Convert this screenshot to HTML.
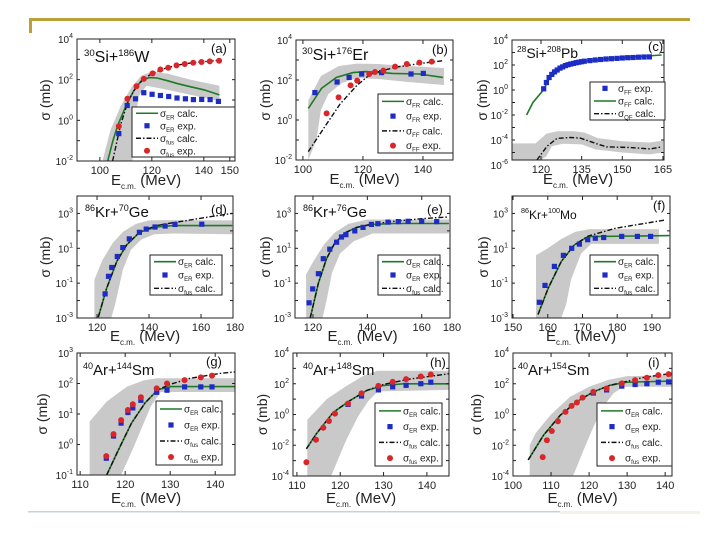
<!DOCTYPE html>
<html><head><meta charset="utf-8"><style>
html,body{margin:0;padding:0;background:#fff}
svg{display:block;font-family:"Liberation Sans",sans-serif}
</style></head><body>
<svg id="chart" width="720" height="540" viewBox="0 0 720 540">
<rect x="0" y="0" width="720" height="540" fill="#fff"/>
<rect x="29" y="18" width="661" height="3" fill="#bba03a"/>
<rect x="29" y="18" width="3" height="15" fill="#bba03a"/>
<rect x="28" y="511" width="532" height="1.5" fill="#c8d0dc"/>
<rect x="560" y="511" width="140" height="3" fill="#f3f1ea"/>
<g id="panels"></g>
</svg>
<script>
// ---- Panel (a) 30Si+186W ----
const aBandHiE=[101,104,108,112,116,120,126,135,146];
const aBandHiL=[-2,-0.5,0.7,1.6,2.2,2.4,2.3,2.0,1.7];
const aBandLoE=[101,112.5,113.5,115,118,124,135,146];
const aBandLoL=[-2,-2,0,1.2,1.7,1.55,1.25,0.95];
const aCalcE=[103,105,107,110,113,116,119,122,126,130,135,140,146];
const aCalcL=[-2,-1,-0.2,0.7,1.45,1.95,2.1,2.08,1.95,1.8,1.65,1.5,1.25];
const aDashE=[104.9,108,111,114,117,120,125,130,136,146];
const aDashL=[-2,-0.2,1.0,1.65,2.05,2.3,2.55,2.72,2.84,2.95];
const aBlueE=[107.3,110.5,113.7,116.9,120.1,123.3,126.5,129.7,132.9,136,139.2,142.4,145.6];
const aBlueL=[-0.65,0.73,1.06,1.36,1.28,1.22,1.17,1.1,1.06,1.02,1.03,1.02,0.93];
const aRedE=[107.3,110.6,114.1,116.9,120.3,123.3,126.3,129.5,132.7,135.9,139.1,142.3,145.9];
const aRedL=[-0.29,1.06,1.68,2.04,2.31,2.5,2.59,2.7,2.77,2.83,2.87,2.9,2.93];
const aXTicks=[100,120,140,150];
const aYTicks=[4,2,0,-2];
// ---- Panel (b) 30Si+176Er ----
const bBandHiE=[101.8,106,112,118,125,135,147];
const bBandHiL=[0.98,2.2,2.7,2.82,2.8,2.7,2.6];
const bBandLoE=[101.8,104.5,106,108.5,113,118,125,135,147];
const bBandLoL=[-2,-1,0.5,1.3,1.85,2.1,2.05,1.9,1.75];
const bCalcE=[101.8,106.2,111.2,116.7,121,129.9,138.8,146.6];
const bCalcL=[0.58,1.58,2.13,2.37,2.42,2.33,2.3,2.13];
const bDashE=[101.8,107.9,112.4,118,122.6,130.4,139.3,147];
const bDashL=[-1.58,-0.2,0.8,1.73,2.3,2.63,2.83,2.97];
const bBlueE=[104,111.4,115.4,119.6,126.2,136,140.1];
const bBlueL=[1.37,1.9,2.13,2.3,2.37,2.3,2.33];
const bRedE=[107.9,111.9,115.9,118.1,122.1,124,126.8,130.7,134.6,138.8,142.9];
const bRedL=[0.33,1.13,1.73,1.97,2.3,2.4,2.47,2.67,2.8,2.87,2.92];
const bXTicks=[100,120,140];
const bYTicks=[4,2,0,-2];
// ---- Panel (c) 28Si+208Pb ----
const cBandHiE=[109.3,118,122,126,132,136,141,150,160,165];
const cBandHiL=[-4.27,-4.27,-3.5,-3.3,-3.3,-3.4,-3.85,-4.1,-4.2,-4.05];
const cBandLoE=[109.3,120,122,124,128,135,140,150,160,165];
const cBandLoL=[-5.6,-5.6,-5.3,-4.5,-4.3,-4.35,-4.75,-5.0,-5.15,-5.0];
const cCalcE=[114.7,117,120.9,123.3,128.3,134.5,146.8,164.5];
const cCalcL=[-2,-1,0,1.0,1.87,2.27,2.53,2.8];
const cDashE=[118.5,122.2,125.9,130.8,134.5,140.6,144.3,152.9,160.3,164.5];
const cDashL=[-5.6,-4.5,-3.87,-3.8,-3.85,-4.3,-4.55,-4.6,-4.72,-4.55];
const cBlueE=[121,122,123,124,125,126,127,128,129,130,131,132,133,134,135,136,138,140,142,144,146,148,150,152,154,156,158,160];
const cBlueL=[0.1,0.6,1.0,1.25,1.45,1.6,1.75,1.85,1.95,2.02,2.08,2.13,2.18,2.22,2.26,2.3,2.35,2.4,2.44,2.48,2.5,2.53,2.56,2.58,2.6,2.62,2.64,2.65];
const cRedE=[];
const cRedL=[];
const cXTicks=[120,135,150,165];
const cYTicks=[4,2,0,-2,-4,-6];
// ---- Panel (d) 86Kr+70Ge ----
const dBandHiE=[119,122,126,130,135,140,145,172];
const dBandHiL=[-0.8,0.3,1.3,1.95,2.4,2.6,2.62,2.6];
const dBandLoE=[119,125.5,127,130,133,137,142,150,172];
const dBandLoL=[-3,-3,-2.2,-0.2,0.9,1.5,1.8,1.85,1.8];
const dCalcE=[120.5,123.7,127.6,131.4,136.5,142.9,149.3,172];
const dCalcL=[-2.95,-1.3,0.25,1.2,1.93,2.22,2.3,2.3];
const dDashE=[120.5,123.7,127.6,131.4,136.5,142.9,149.3,165.3,172];
const dDashL=[-2.95,-1.3,0.25,1.2,1.95,2.3,2.47,2.85,3.0];
const dBlueE=[123.1,124.4,125.7,127.8,129.9,132.4,136.3,138.9,142.3,146.2,150,160.3];
const dBlueL=[-1.62,-0.61,-0.1,0.53,1.04,1.54,1.92,2.1,2.22,2.28,2.37,2.38];
const dRedE=[];
const dRedL=[];
const dXTicks=[120,140,160,180];
const dYTicks=[3,1,-1,-3];
// ---- Panel (e) 86Kr+76Ge ----
const eBandHiE=[117.5,120,124,128,133,140,170];
const eBandHiL=[-0.5,0.2,1.2,1.9,2.4,2.65,2.65];
const eBandLoE=[117.5,123.5,125,127,130,135,142,170];
const eBandLoL=[-3,-3,-2,-0.4,0.7,1.4,1.85,1.85];
const eCalcE=[119,122,125,128,132,136,142,150,170];
const eCalcL=[-3,-1,0.4,1.3,1.9,2.2,2.37,2.42,2.42];
const eDashE=[119,122,125,128,132,136,142,150,160,170];
const eDashL=[-3,-1,0.4,1.3,1.9,2.2,2.4,2.55,2.7,2.8];
const eBlueE=[118.6,119.9,122,123.8,126.2,128.7,130.5,132.1,135.4,138.4,141.5,143.9,147.6,151.4,155,160,165.5];
const eBlueL=[-2.13,-1.33,-0.46,0.4,0.95,1.35,1.65,1.78,2.0,2.2,2.37,2.41,2.5,2.53,2.55,2.55,2.53];
const eRedE=[];
const eRedL=[];
const eXTicks=[120,140,160,180];
const eYTicks=[3,1,-1,-3];
// ---- Panel (f) 86Kr+100Mo ----
const fBandHiE=[156.6,160,164,168,172,192];
const fBandHiL=[0.6,1.0,1.55,1.95,2.1,2.1];
const fBandLoE=[156.6,163.9,165.3,166.7,169.6,172.5,192];
const fBandLoL=[-3,-3,-2.2,-0.8,0.7,1.25,1.25];
const fCalcE=[157.2,160.1,163.9,167.7,171.6,195];
const fCalcL=[-2.8,-1.3,0.25,1.2,1.67,1.73];
const fDashE=[157.2,160.1,163.9,167.7,171.6,179.6,194];
const fDashL=[-2.8,-1.3,0.25,1.2,1.7,2.15,2.63];
const fBlueE=[157.6,159.2,161.9,164.5,166.9,169.1,171.5,173.7,176.1,181.3,185.8,189.6];
const fBlueL=[-2.1,-1.13,-0.04,0.59,1.0,1.24,1.49,1.58,1.62,1.68,1.68,1.68];
const fRedE=[];
const fRedL=[];
const fXTicks=[150,160,170,180,190];
const fYTicks=[3,1,-1,-3];
// ---- Panel (g) 40Ar+144Sm ----
const gBandHiE=[112.1,115.9,120.4,124.1,127.1,144.4];
const gBandHiL=[0.75,1.41,1.9,2.1,2.17,2.17];
const gBandLoE=[112.1,119.1,121.6,123.5,125.7,127.9,144.4];
const gBandLoL=[-1,-1,-0.18,0.48,1.25,1.72,1.72];
const gCalcE=[115.9,118.5,121.4,124.4,127.3,130.2,144.4];
const gCalcL=[-1,-0.18,0.7,1.36,1.8,1.9,1.9];
const gDashE=[115.9,118.5,121.4,124.4,127.3,130.2,134.4,141.1,144.4];
const gDashL=[-1,-0.18,0.7,1.36,1.8,1.98,2.17,2.33,2.38];
const gBlueE=[115.8,117.4,119.1,120.6,121.7,123.5,127,129.3,133.2,136.8,139.3];
const gBlueL=[-0.45,0.28,0.7,1.05,1.2,1.45,1.71,1.78,1.89,1.89,1.89];
const gRedE=[115.8,117.4,119.1,120.6,121.7,123.5,127,129.3,133.2,136.8,139.3];
const gRedL=[-0.38,0.34,0.8,1.13,1.32,1.55,1.84,2.0,2.11,2.2,2.26];
const gXTicks=[110,120,130,140];
const gYTicks=[3,2,1,0,-1];
// ---- Panel (h) 40Ar+148Sm ----
const hBandHiE=[112.4,116.9,121.5,125.4,128.5,145];
const hBandHiL=[-0.34,1.0,1.87,2.52,2.85,2.85];
const hBandLoE=[112.4,117.9,121.4,124.1,126.4,128.7,145];
const hBandLoL=[-4,-4,-1.65,-0.13,0.85,1.5,1.6];
const hCalcE=[112.2,114.5,118.4,122.2,126.1,129.9,134.5,145];
const hCalcL=[-2.23,-1.25,0.14,0.9,1.56,1.88,2.0,2.0];
const hDashE=[112.2,114.5,118.4,122.2,126.1,129.9,136,145];
const hDashL=[-2.23,-1.25,0.14,0.9,1.56,1.95,2.3,2.65];
const hBlueE=[121.8,124.9,128.8,132.1,135.2,138.6,140.9];
const hBlueL=[0.66,1.2,1.6,1.8,1.9,2.0,2.1];
const hRedE=[112.2,114.4,116.1,117.4,118.8,121.8,124.9,128.8,132.1,135.2,138.6,140.9];
const hRedL=[-3.1,-1.64,-0.86,-0.42,0.06,0.71,1.37,1.86,2.12,2.3,2.47,2.6];
const hXTicks=[110,120,130,140];
const hYTicks=[4,2,0,-2,-4];
// ---- Panel (i) 40Ar+154Sm ----
const iBandHiE=[104.4,106,110,115,120,125,130,141.8];
const iBandHiL=[-2.0,-1.2,0.0,1.15,1.8,2.25,2.5,2.55];
const iBandLoE=[104.4,115.8,118.5,121.1,123.7,126.4,129,141.8];
const iBandLoL=[-4,-4,-2.34,-0.82,0.5,1.37,1.8,1.8];
const iCalcE=[104,108,112.4,116.8,121.1,125.5,129.9,141.8];
const iCalcL=[-2.95,-1.36,-0.05,0.84,1.47,1.9,2.1,2.17];
const iDashE=[104,108,112.4,116.8,121.1,125.5,129.9,134.3,141.8];
const iDashL=[-2.95,-1.36,-0.05,0.84,1.47,1.9,2.15,2.41,2.67];
const iBlueE=[121.1,124.6,128.6,132.1,135.2,138.2,140.9];
const iBlueL=[1.4,1.6,1.85,1.95,2.0,2.1,2.12];
const iRedE=[107.8,108.9,110.2,111.8,113.8,115.4,116.8,118.3,121.1,124.6,128.6,132.1,135.2,138.2,140.9];
const iRedL=[-2.77,-1.68,-1.07,-0.44,0.17,0.56,0.78,1.1,1.47,1.69,2.02,2.24,2.39,2.56,2.63];
const iXTicks=[100,110,120,130,140];
const iYTicks=[4,2,0,-2,-4];

const NS='http://www.w3.org/2000/svg';
const root=document.getElementById('panels');
function mk(tag,attrs,parent){const e=document.createElementNS(NS,tag);for(const k in attrs)e.setAttribute(k,attrs[k]);parent.appendChild(e);return e;}

const GREEN='#1f7a26',BLUE='#1c2cc4',RED='#d8262a',BAND='#c9c9c9';

function drawPanel(p){
  const g=mk('g',{},root);
  
  
  const [x0,x1,y0,y1]=p.box;
  const sx=v=>x0+(v-p.xd[0])/(p.xd[1]-p.xd[0])*(x1-x0);
  const sy=l=>y1-(l-p.yd[0])/(p.yd[1]-p.yd[0])*(y1-y0);
  const cp=mk('clipPath',{id:'clip-'+p.id},g);
  mk('rect',{x:x0,y:y0,width:x1-x0,height:y1-y0},cp);
  const pg=mk('g',{'clip-path':'url(#clip-'+p.id+')'},g);
  // band
  const pts=[];
  p.bandHiE.forEach((e,i)=>pts.push(sx(e).toFixed(1)+','+sy(p.bandHiL[i]).toFixed(1)));
  for(let i=p.bandLoE.length-1;i>=0;i--)pts.push(sx(p.bandLoE[i]).toFixed(1)+','+sy(p.bandLoL[i]).toFixed(1));
  const band=mk('polygon',{points:pts.join(' '),fill:BAND,stroke:'none'},pg);
  
  
  // calc line
  const cl=mk('polyline',{points:p.calcE.map((e,i)=>sx(e).toFixed(1)+','+sy(p.calcL[i]).toFixed(1)).join(' '),fill:'none',stroke:GREEN,'stroke-width':1.6},pg);
  
  
  const dl=mk('polyline',{points:p.dashE.map((e,i)=>sx(e).toFixed(1)+','+sy(p.dashL[i]).toFixed(1)).join(' '),fill:'none',stroke:'#111','stroke-width':1.4,'stroke-dasharray':'5,2,1.5,2'},pg);
  
  
  p.blueE.forEach((e,i)=>{
    const s=mk('rect',{x:(sx(e)-2.6).toFixed(1),y:(sy(p.blueL[i])-2.6).toFixed(1),width:5.2,height:5.2,fill:BLUE},pg);
    
    
  });
  p.redE.forEach((e,i)=>{
    const c=mk('circle',{cx:sx(e).toFixed(1),cy:sy(p.redL[i]).toFixed(1),r:3,fill:RED},pg);
    
    
  });
  // axes box
  const ax=mk('rect',{x:x0,y:y0,width:x1-x0,height:y1-y0,fill:'none',stroke:'#222','stroke-width':1},g);
  
  
  // x ticks
  p.xt.forEach(v=>{
    let x=sx(v);
    if(x<=x1+0.5&&x>=x0-0.5){
      mk('line',{x1:x,y1:y1,x2:x,y2:y1-4,stroke:'#222','stroke-width':1},g);
      mk('line',{x1:x,y1:y0,x2:x,y2:y0+4,stroke:'#222','stroke-width':1},g);
    }
    const lx=Math.min(x,x1+2);
    const t=mk('text',{x:lx,y:y1+13,'font-size':11,'text-anchor':'middle',fill:'#222'},g);
    t.textContent=String(v);
    
    
  });
  // y ticks
  for(let l=Math.ceil(p.yd[0]);l<=Math.floor(p.yd[1]);l++){
    const y=sy(l);
    mk('line',{x1:x0,y1:y,x2:x0+3,y2:y,stroke:'#222','stroke-width':1},g);
    mk('line',{x1:x1,y1:y,x2:x1-3,y2:y,stroke:'#222','stroke-width':1},g);
  }
  p.yt.forEach(l=>{
    const y=sy(l);
    const t=mk('text',{x:x0-4,y:y+4,'font-size':10,'text-anchor':'end',fill:'#222'},g);
    t.appendChild(document.createTextNode('10'));
    const sup=mk('tspan',{dy:-5,'font-size':7},t);
    sup.textContent=String(l);
    
    
  });
  // axis titles
  const xt=mk('text',{x:(x0+x1)/2-10,y:y1+p.xtOff,'font-size':15,'text-anchor':'middle',fill:'#222'},g);
  xt.appendChild(document.createTextNode('E'));
  const xs=mk('tspan',{dy:4,'font-size':8},xt);xs.textContent='c.m.';
  const xr=mk('tspan',{dy:-4},xt);xr.textContent=' (MeV)';
  
  
  const yt=mk('text',{x:p.ytx,y:(y0+y1)/2,'font-size':14,'text-anchor':'middle',fill:'#222',transform:'rotate(-90 '+p.ytx+' '+(y0+y1)/2+')'},g);
  yt.textContent='σ (mb)';
  
  
  // reaction title
  const rt=mk('text',{x:p.tpos[0],y:p.tpos[1],'font-size':p.tsize,fill:'#111'},g);
  const s1=mk('tspan',{dy:-6,'font-size':p.tsize*0.6},rt);s1.textContent=p.reac[0];
  const s2=mk('tspan',{dy:6},rt);s2.textContent=p.reac[1];
  const s3=mk('tspan',{dy:-6,'font-size':p.tsize*0.6},rt);s3.textContent=p.reac[2];
  const s4=mk('tspan',{dy:6},rt);s4.textContent=p.reac[3];
  
  
  const lt=mk('text',{x:p.lpos[0],y:p.lpos[1],'font-size':13,fill:'#111'},g);
  lt.textContent='('+p.id+')';
  
  
  // legend
  const [lx0,ly0,lx1,ly1]=p.leg;
  const lg=mk('g',{},g);
  
  
  mk('rect',{x:lx0,y:ly0,width:lx1-lx0,height:ly1-ly0,fill:'#fff',stroke:'#222','stroke-width':1},lg);
  const n=p.entries.length, h=(ly1-ly0)/n;
  p.entries.forEach((en,i)=>{
    const cy=ly0+h*(i+0.5);
    const sx0=lx0+4, sx1=lx0+26, mx=(sx0+sx1)/2;
    const eg=mk('g',{},lg);
    
    
    if(en[0]==='green')mk('line',{x1:sx0,y1:cy,x2:sx1,y2:cy,stroke:GREEN,'stroke-width':1.6},eg);
    if(en[0]==='dash')mk('line',{x1:sx0,y1:cy,x2:sx1,y2:cy,stroke:'#111','stroke-width':1.4,'stroke-dasharray':'5,2,1.5,2'},eg);
    if(en[0]==='blue')mk('rect',{x:mx-2.6,y:cy-2.6,width:5.2,height:5.2,fill:BLUE},eg);
    if(en[0]==='red')mk('circle',{cx:mx,cy:cy,r:3,fill:RED},eg);
    const t=mk('text',{x:sx1+2,y:cy+3.5,'font-size':10,fill:'#222'},eg);
    t.appendChild(document.createTextNode('σ'));
    const sb=mk('tspan',{dy:2.5,'font-size':6},t);sb.textContent=en[1];
    const rest=mk('tspan',{dy:-2.5},t);rest.textContent=' '+en[2];
  });
}

const panels=[
 {id:'a',box:[77,235,39,161],xd:[91.2,152],yd:[-2,4],bandHiE:aBandHiE,bandHiL:aBandHiL,bandLoE:aBandLoE,bandLoL:aBandLoL,calcE:aCalcE,calcL:aCalcL,dashE:aDashE,dashL:aDashL,blueE:aBlueE,blueL:aBlueL,redE:aRedE,redL:aRedL,xt:aXTicks,yt:aYTicks,xtOff:24,ytx:50,tpos:[84,62],tsize:16,reac:['30','Si+','186','W'],lpos:[211,53],leg:[132,107,235,157],entries:[['green','ER','calc.'],['blue','ER','exp.'],['dash','fus','calc.'],['red','fus','exp.']]},
 {id:'b',box:[296,453,40,160],xd:[97.7,150],yd:[-2,4],bandHiE:bBandHiE,bandHiL:bBandHiL,bandLoE:bBandLoE,bandLoL:bBandLoL,calcE:bCalcE,calcL:bCalcL,dashE:bDashE,dashL:bDashL,blueE:bBlueE,blueL:bBlueL,redE:bRedE,redL:bRedL,xt:bXTicks,yt:bYTicks,xtOff:24,ytx:270,tpos:[302,60],tsize:16,reac:['30','Si+','176','Er'],lpos:[432,54],leg:[378,94,453,153],entries:[['green','FR','calc.'],['blue','FR','exp.'],['dash','FF','calc.'],['red','FF','exp.']]},
 {id:'c',box:[512,664,40,160],xd:[109.3,165.4],yd:[-5.6,4],bandHiE:cBandHiE,bandHiL:cBandHiL,bandLoE:cBandLoE,bandLoL:cBandLoL,calcE:cCalcE,calcL:cCalcL,dashE:cDashE,dashL:cDashL,blueE:cBlueE,blueL:cBlueL,redE:cRedE,redL:cRedL,xt:cXTicks,yt:cYTicks,xtOff:24,ytx:487,tpos:[517,58],tsize:14,reac:['28','Si+','208','Pb'],lpos:[648,51],leg:[590,82,665,120],entries:[['blue','FF','exp.'],['green','FF','calc.'],['dash','QF','calc.']]},
 {id:'d',box:[77,233,196,318],xd:[112.3,172.3],yd:[-3,4],bandHiE:dBandHiE,bandHiL:dBandHiL,bandLoE:dBandLoE,bandLoL:dBandLoL,calcE:dCalcE,calcL:dCalcL,dashE:dDashE,dashL:dDashL,blueE:dBlueE,blueL:dBlueL,redE:dRedE,redL:dRedL,xt:dXTicks,yt:dYTicks,xtOff:23,ytx:50,tpos:[85,217],tsize:15,reac:['86','Kr+','70','Ge'],lpos:[211,214],leg:[150,255,222,295],entries:[['green','ER','calc.'],['blue','ER','exp.'],['dash','fus','calc.']]},
 {id:'e',box:[295,450,196,318],xd:[113.4,170.4],yd:[-3,4],bandHiE:eBandHiE,bandHiL:eBandHiL,bandLoE:eBandLoE,bandLoL:eBandLoL,calcE:eCalcE,calcL:eCalcL,dashE:eDashE,dashL:eDashL,blueE:eBlueE,blueL:eBlueL,redE:eRedE,redL:eRedL,xt:eXTicks,yt:eYTicks,xtOff:23,ytx:270,tpos:[303,217],tsize:15,reac:['86','Kr+','76','Ge'],lpos:[427,214],leg:[378,255,440,295],entries:[['green','ER','calc.'],['blue','ER','exp.'],['dash','fus','calc.']]},
 {id:'f',box:[512,670,196,318],xd:[149.7,195.2],yd:[-3,4],bandHiE:fBandHiE,bandHiL:fBandHiL,bandLoE:fBandLoE,bandLoL:fBandLoL,calcE:fCalcE,calcL:fCalcL,dashE:fDashE,dashL:fDashL,blueE:fBlueE,blueL:fBlueL,redE:fRedE,redL:fRedL,xt:fXTicks,yt:fYTicks,xtOff:23,ytx:488,tpos:[521,219],tsize:12,reac:['86','Kr+','100','Mo'],lpos:[653,210],leg:[590,255,658,295],entries:[['green','ER','calc.'],['blue','ER','exp.'],['dash','fus','calc.']]},
 {id:'g',box:[77,235,353,475],xd:[109.3,144.4],yd:[-1,3],bandHiE:gBandHiE,bandHiL:gBandHiL,bandLoE:gBandLoE,bandLoL:gBandLoL,calcE:gCalcE,calcL:gCalcL,dashE:gDashE,dashL:gDashL,blueE:gBlueE,blueL:gBlueL,redE:gRedE,redL:gRedL,xt:gXTicks,yt:gYTicks,xtOff:28,ytx:47,tpos:[83,375],tsize:15,reac:['40','Ar+','144','Sm'],lpos:[206,366],leg:[156,401,222,465],entries:[['green','ER','calc.'],['blue','ER','exp.'],['dash','fus','calc.'],['red','fus','exp.']]},
 {id:'h',box:[293,449,353,476],xd:[109.1,145.1],yd:[-4,4],bandHiE:hBandHiE,bandHiL:hBandHiL,bandLoE:hBandLoE,bandLoL:hBandLoL,calcE:hCalcE,calcL:hCalcL,dashE:hDashE,dashL:hDashL,blueE:hBlueE,blueL:hBlueL,redE:hRedE,redL:hRedL,xt:hXTicks,yt:hYTicks,xtOff:27,ytx:267,tpos:[303,375],tsize:15,reac:['40','Ar+','148','Sm'],lpos:[430,367],leg:[375,403,442,466],entries:[['green','ER','calc.'],['blue','ER','exp.'],['dash','fus','calc.'],['red','fus','exp.']]},
 {id:'i',box:[513,672,353,476],xd:[100,141.8],yd:[-4,4],bandHiE:iBandHiE,bandHiL:iBandHiL,bandLoE:iBandLoE,bandLoL:iBandLoL,calcE:iCalcE,calcL:iCalcL,dashE:iDashE,dashL:iDashL,blueE:iBlueE,blueL:iBlueL,redE:iRedE,redL:iRedL,xt:iXTicks,yt:iYTicks,xtOff:27,ytx:481,tpos:[518,375],tsize:15,reac:['40','Ar+','154','Sm'],lpos:[648,367],leg:[597,403,672,466],entries:[['green','ER','calc.'],['blue','ER','exp.'],['dash','fus','calc.'],['red','fus','exp.']]}
];
panels.forEach(drawPanel);
</script>
</body></html>
